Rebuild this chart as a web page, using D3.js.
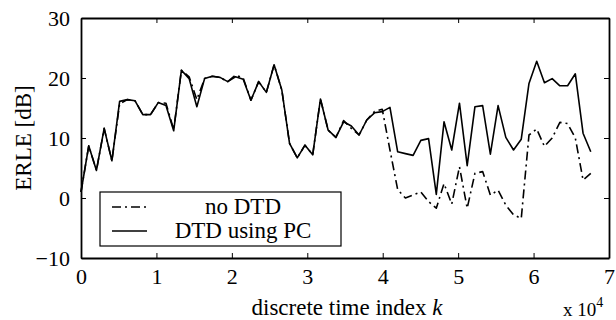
<!DOCTYPE html>
<html>
<head>
<meta charset="utf-8">
<script src="https://cdn.jsdelivr.net/npm/d3@7"></script>
<style>
  html, body { margin: 0; padding: 0; background: #fff; }
  svg { display: block; font-family: "Liberation Serif", "Times New Roman", serif; }
</style>
</head>
<body>
<div id="chart"></div>
<script>
// ERLE of the echo canceller, with and without double-talk detection.

// sample index k of each ERLE estimate
const kIndex = [0, 1024, 2048, 3072, 4096, 5120, 6144, 7168, 8192, 9216,
  10240, 11264, 12288, 13312, 14336, 15360, 16384, 17408, 18432, 19456,
  20480, 21504, 22528, 23552, 24576, 25600, 26624, 27648, 28672, 29696,
  30720, 31744, 32768, 33792, 34816, 35840, 36864, 37888, 38912, 39936,
  40960, 41984, 43008, 44032, 45056, 46080, 47104, 48128, 49152, 50176,
  51200, 52224, 53248, 54272, 55296, 56320, 57344, 58368, 59392, 60416,
  61440, 62464, 63488, 64512, 65536, 66560, 67584];

// ERLE [dB], no double-talk detector
const erleNoDtd = [1.0, 8.7, 4.6, 11.6, 6.2, 15.7, 16.4, 16.2, 13.9, 13.9,
  15.9, 15.8, 11.4, 21.3, 20.2, 16.4, 19.9, 20.3, 20.1, 19.4,
  20.5, 20.0, 16.3, 19.4, 17.6, 22.2, 18.0, 9.1, 6.7, 8.8,
  7.2, 16.5, 11.3, 10.1, 12.9, 11.6, 10.5, 13.0, 14.4, 14.8,
  8.0, 1.4, 0.0, 0.5, 1.0, -0.6, -1.7, 2.4, -1.0, 5.2,
  -1.7, 4.1, 4.4, 0.5, 1.3, -1.2, -2.8, -3.4, 10.5, 11.5,
  8.6, 10.0, 12.6, 12.4, 10.0, 3.0, 4.1];

// ERLE [dB], DTD using PC
const erlePc = [1.0, 8.7, 4.6, 11.6, 6.2, 16.1, 16.4, 16.2, 13.9, 13.9,
  15.9, 15.4, 11.2, 21.3, 19.9, 15.2, 19.9, 20.3, 20.1, 19.4,
  20.2, 19.8, 16.3, 19.4, 17.6, 22.2, 18.0, 9.1, 6.7, 8.8,
  7.2, 16.5, 11.3, 10.1, 12.7, 12.0, 10.5, 13.0, 14.2, 14.4,
  15.1, 7.7, 7.4, 7.1, 9.6, 9.9, 0.6, 12.7, 8.0, 15.8,
  5.4, 15.2, 15.4, 7.3, 15.4, 10.1, 8.0, 9.8, 19.1, 22.8,
  19.2, 19.9, 18.7, 18.7, 20.7, 10.8, 7.7];

const xTicks = [0, 1, 2, 3, 4, 5, 6, 7];          // x 10^4
const yTicks = [-10, 0, 10, 20, 30];
const legendLabels = ['no DTD', 'DTD using PC'];

const W = 616, H = 320;
const margin = { top: 18, right: 7, bottom: 62, left: 81 };
const iw = W - margin.left - margin.right;
const ih = H - margin.top - margin.bottom;
const tickLen = 5;
const dashDot = '9,4,2,4';

const svg = d3.select('#chart').append('svg')
  .attr('width', W).attr('height', H);

const x = d3.scaleLinear().domain([0, 7]).range([margin.left, margin.left + iw]);
const y = d3.scaleLinear().domain([-10, 30]).range([margin.top + ih, margin.top]);

const series = [
  { values: erleNoDtd, dash: dashDot },
  { values: erlePc, dash: null },
];

const line = d3.line()
  .x((d) => x(d[0] / 1e4))
  .y((d) => y(d[1]));

const plot = svg.append('g');
series.forEach((s) => {
  plot.append('path')
    .datum(kIndex.map((k, i) => [k, s.values[i]]))
    .attr('d', line)
    .attr('fill', 'none')
    .attr('stroke', '#000')
    .attr('stroke-width', 1.6)
    .attr('stroke-linejoin', 'round')
    .attr('stroke-dasharray', s.dash);
});

// axes, MATLAB style: ticks point inward on all four sides
const fmt = (d) => String(d).replace('-', '\u2212');
const axBottom = d3.axisBottom(x).tickValues(xTicks).tickFormat(fmt)
  .tickSizeInner(-tickLen).tickSizeOuter(0).tickPadding(10);
const axTop = d3.axisTop(x).tickValues(xTicks).tickFormat('')
  .tickSizeInner(-tickLen).tickSizeOuter(0);
const axLeft = d3.axisLeft(y).tickValues(yTicks).tickFormat(fmt)
  .tickSizeInner(-tickLen).tickSizeOuter(0).tickPadding(11);
const axRight = d3.axisRight(y).tickValues(yTicks).tickFormat('')
  .tickSizeInner(-tickLen).tickSizeOuter(0);

function styleAxis(g) {
  g.attr('font-family', null);
  g.select('.domain').attr('stroke', '#000').attr('stroke-width', 1.8);
  g.selectAll('.tick line').attr('stroke', '#000').attr('stroke-width', 1);
  g.selectAll('.tick text')
    .attr('fill', '#000')
    .style('font-size', '22px');
}

svg.append('g').attr('transform', `translate(0,${margin.top + ih})`).call(axBottom).call(styleAxis);
svg.append('g').attr('transform', `translate(0,${margin.top})`).call(axTop).call(styleAxis);
svg.append('g').attr('transform', `translate(${margin.left},0)`).call(axLeft).call(styleAxis);
svg.append('g').attr('transform', `translate(${margin.left + iw},0)`).call(axRight).call(styleAxis);

// axis titles
svg.append('text')
  .attr('x', margin.left + iw / 2 + 2).attr('y', 315)
  .attr('text-anchor', 'middle')
  .style('font-size', '23px')
  .html('discrete time index <tspan font-style="italic">k</tspan>');

svg.append('text')
  .attr('transform', `translate(31,${margin.top + ih / 2}) rotate(-90)`)
  .attr('text-anchor', 'middle')
  .style('font-size', '23px')
  .text('ERLE [dB]');

const expo = svg.append('text').attr('x', 563).attr('y', 316).style('font-size', '19px');
expo.append('tspan').text('x 10');
expo.append('tspan').attr('dy', -9).style('font-size', '14px').text('4');

// legend
const lg = svg.append('g').attr('transform', 'translate(100,192)');
lg.append('rect')
  .attr('width', 241).attr('height', 54)
  .attr('fill', '#fff').attr('stroke', '#000').attr('stroke-width', 1.2);
legendLabels.forEach((label, i) => {
  const cy = 15 + i * 24;
  lg.append('line')
    .attr('x1', 12).attr('x2', 47).attr('y1', cy).attr('y2', cy)
    .attr('stroke', '#000').attr('stroke-width', 1.6)
    .attr('stroke-dasharray', series[i].dash);
  lg.append('text')
    .attr('x', 143).attr('y', cy + 7)
    .attr('text-anchor', 'middle')
    .style('font-size', '23px')
    .text(label);
});
</script>
</body>
</html>
